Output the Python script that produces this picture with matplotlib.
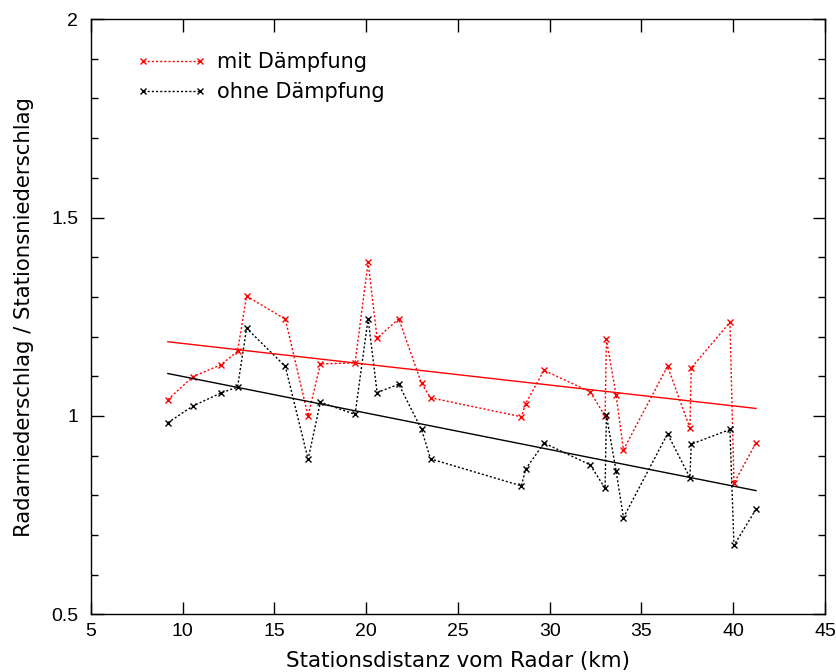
import matplotlib
matplotlib.use("Agg")
import matplotlib.pyplot as plt
from matplotlib.ticker import MultipleLocator
import numpy as np

plt.rcParams['font.family'] = ['Liberation Sans', 'DejaVu Sans']

dist = [9.2, 10.56, 12.09, 13.0, 13.49, 15.6, 16.84, 17.51, 19.40, 20.11, 20.60,
        21.78, 23.02, 23.51, 28.46, 28.69, 29.69, 32.20, 33.02, 33.09, 33.62,
        34.02, 36.42, 37.64, 37.71, 39.82, 40.04, 41.24]
mit = [1.041, 1.099, 1.129, 1.163, 1.302, 1.244, 1.000, 1.131, 1.134, 1.387, 1.196,
       1.245, 1.082, 1.046, 0.998, 1.031, 1.115, 1.061, 1.000, 1.193, 1.052,
       0.915, 1.125, 0.970, 1.121, 1.236, 0.831, 0.932]
ohne = [0.983, 1.025, 1.058, 1.073, 1.221, 1.125, 0.891, 1.035, 1.004, 1.245, 1.059,
        1.080, 0.966, 0.892, 0.824, 0.866, 0.932, 0.877, 0.818, 1.002, 0.861,
        0.744, 0.955, 0.845, 0.929, 0.966, 0.674, 0.765]

fit_x = [9.2, 41.24]
fit_mit = [1.187, 1.019]
fit_ohne = [1.107, 0.812]

label_font = ['DejaVu Sans']
label_size = 15

fig = plt.figure(figsize=(8.37, 6.72), dpi=100)
ax = fig.add_axes([0.1084, 0.0856, 0.8773, 0.8861])

ax.plot(dist, mit, color='#ff0000', linestyle=(0, (1.5, 1.5)), linewidth=1.0,
        marker='x', markersize=5, markeredgewidth=1.0, label='mit Dämpfung')
ax.plot(dist, ohne, color='black', linestyle=(0, (1.5, 1.5)), linewidth=1.0,
        marker='x', markersize=5, markeredgewidth=1.0, label='ohne Dämpfung')
ax.plot(fit_x, fit_mit, color='#ff0000', linewidth=1.0)
ax.plot(fit_x, fit_ohne, color='black', linewidth=1.0)

ax.set_xlim(5, 45)
ax.set_ylim(0.5, 2)
ax.xaxis.set_major_locator(MultipleLocator(5))
ax.yaxis.set_minor_locator(MultipleLocator(0.1))
ax.set_yticks([0.5, 1, 1.5, 2])
ax.set_yticklabels(['0.5', '1', '1.5', '2'])
ax.tick_params(axis='both', which='both', direction='in', top=True, right=True,
               labelsize=14, width=1.0)
ax.tick_params(axis='both', which='major', length=9)
ax.tick_params(axis='x', which='major', pad=6)
ax.tick_params(axis='y', which='major', pad=9)
ax.tick_params(axis='both', which='minor', length=5)
for s in ax.spines.values():
    s.set_linewidth(1.0)

ax.set_xlabel('Stationsdistanz vom Radar (km)', fontsize=15.4, family=label_font)
ax.set_ylabel('Radarniederschlag / Stationsniederschlag', fontsize=15.3, family=label_font)
ax.xaxis.set_label_coords(0.5, -0.062)
ax.xaxis.label.set_va('top')
ax.yaxis.set_label_coords(-0.0772, 0.5)

leg = ax.legend(loc='upper left', bbox_to_anchor=(46 / 734.3, 1 - 33 / 595.3),
                frameon=False, prop={'family': label_font, 'size': label_size},
                numpoints=2, handlelength=3.34, handletextpad=0.5,
                labelspacing=0.49, borderpad=0, borderaxespad=0)

fig.savefig('out.png', dpi=100)
